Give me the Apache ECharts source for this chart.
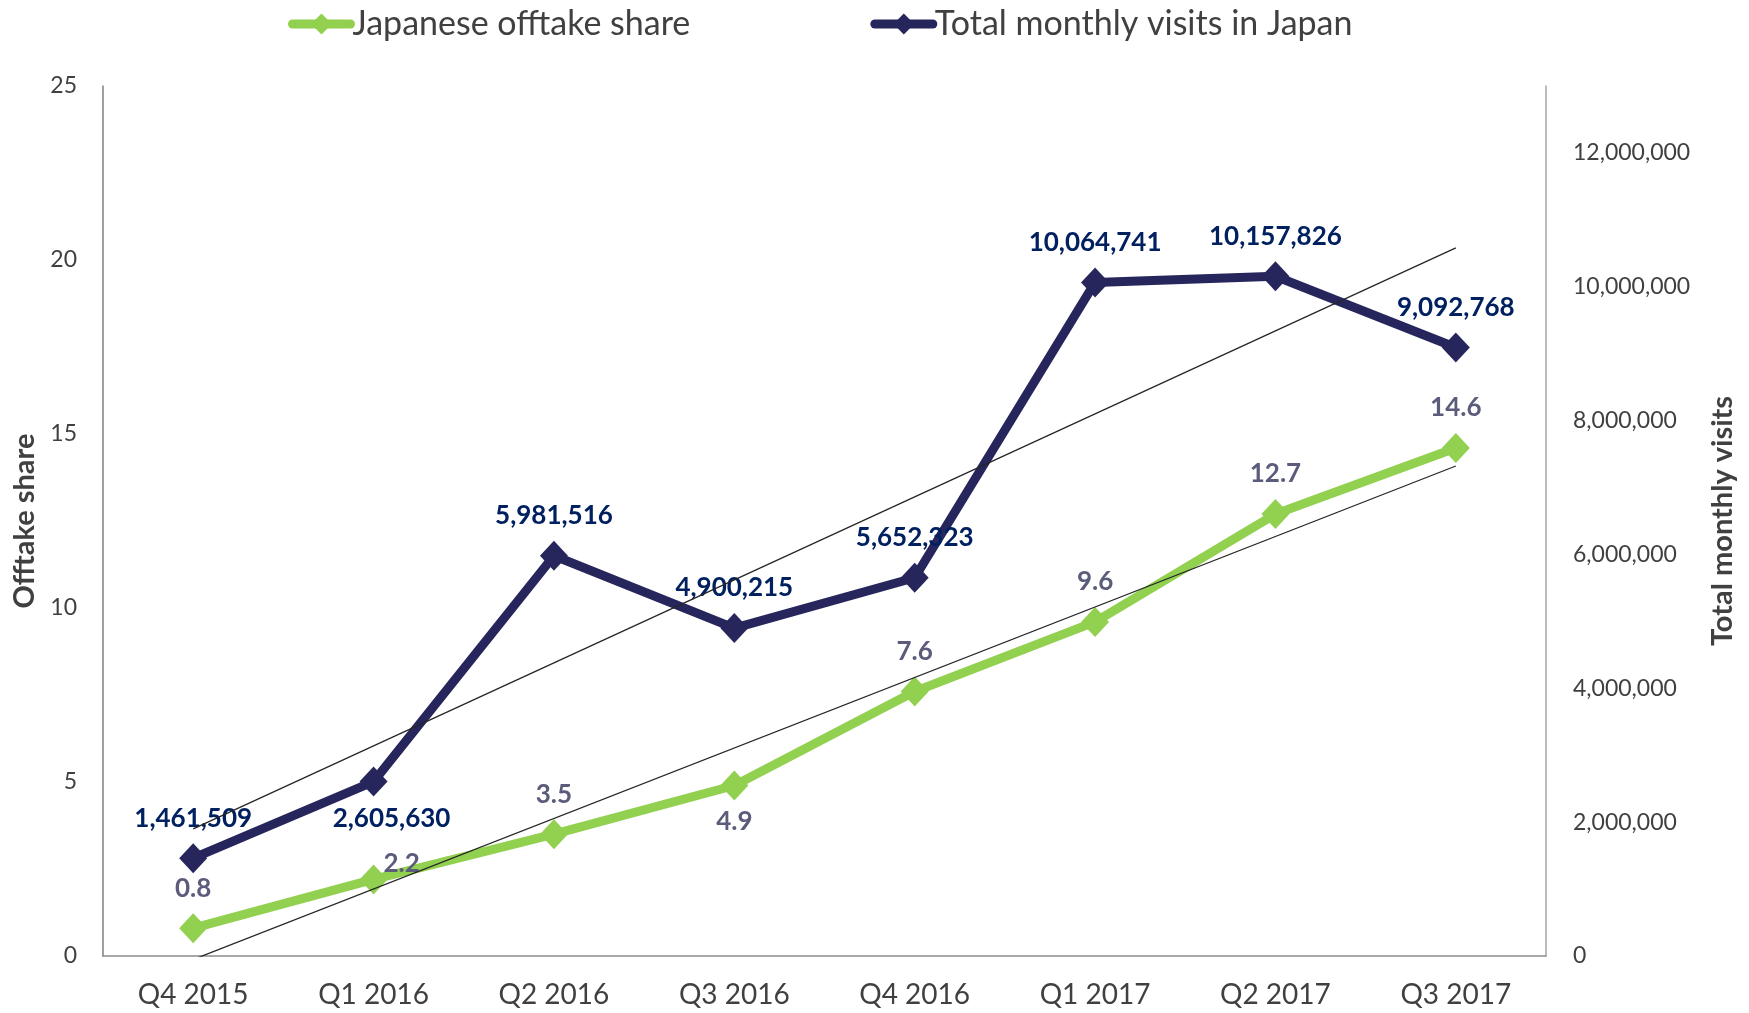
<!DOCTYPE html>
<html>
<head>
<meta charset="utf-8">
<script src="https://cdn.jsdelivr.net/npm/echarts@6/dist/echarts.min.js"></script>
<style>
  html, body { margin: 0; padding: 0; background: #fff; }
  #chart { width: 1749px; height: 1013px; }
</style>
</head>
<body>
<div id="chart"></div>
<script>
// quarters on the x axis
const quarters = ["Q4 2015", "Q1 2016", "Q2 2016", "Q3 2016", "Q4 2016", "Q1 2017", "Q2 2017", "Q3 2017"];
// Japanese offtake share (left axis)
const offtakeShare = [0.8, 2.2, 3.5, 4.9, 7.6, 9.6, 12.7, 14.6];
// Total monthly visits in Japan (right axis)
const monthlyVisits = [1461509, 2605630, 5981516, 4900215, 5652323, 10064741, 10157826, 9092768];
// thin trend lines, values read at Q4 2015 and Q3 2017
const offtakeTrend = [-0.1, 14.08];
const visitsTrend = [1900000, 10580000];

const FONT = "Lato, 'Noto Sans', sans-serif";
const GREEN = "#92d050";
const NAVY = "#26265c";
const VISIT_LABEL = "#002060";
const SHARE_LABEL = "#5b5b7b";

const fmtVisits = (v) => Number(v).toLocaleString("en-US");

const labelBase = {
  show: true,
  position: "top",
  distance: 12,
  fontFamily: FONT,
  fontWeight: "bold",
  fontSize: 26,
};

// a few labels sit below / beside their point in the original
const visitData = monthlyVisits.map((v, i) => {
  if (i === 1) {
    return { value: v, label: { position: "bottom", distance: 9, offset: [18, 0] } };
  }
  return v;
});
const shareData = offtakeShare.map((v, i) => {
  if (i === 1) return { value: v, label: { offset: [28, 24] } };
  if (i === 3) return { value: v, label: { position: "bottom", distance: 8 } };
  return v;
});

const chart = echarts.init(document.getElementById("chart"));
chart.setOption({
  backgroundColor: "#fff",
  animation: false,
  textStyle: { fontFamily: FONT },
  legend: {
    data: ["Japanese offtake share", "Total monthly visits in Japan"],
    left: 283,
    top: 2,
    itemWidth: 58,
    itemHeight: 26,
    itemGap: 180,
    lineStyle: { width: 9, cap: "round" },
    textStyle: { fontFamily: FONT, fontSize: 34, color: "#404040", padding: [0, 0, 0, -3] },
  },
  grid: { left: 103, right: 203, top: 86, bottom: 57, containLabel: false },
  xAxis: {
    type: "category",
    data: quarters,
    boundaryGap: true,
    axisLine: { lineStyle: { color: "#8c8c8c", width: 1.5 } },
    axisTick: { show: false },
    axisLabel: { fontFamily: FONT, fontSize: 28, color: "#404040", margin: 25 },
  },
  yAxis: [
    {
      type: "value",
      min: 0,
      max: 25,
      interval: 5,
      name: "Offtake share",
      nameLocation: "middle",
      nameGap: 64,
      nameTextStyle: { fontFamily: FONT, fontSize: 29, fontWeight: "bold", color: "#404040" },
      splitLine: { show: false },
      axisLine: { show: true, lineStyle: { color: "#7f7f7f", width: 1.5 } },
      axisTick: { show: false },
      axisLabel: { fontFamily: FONT, fontSize: 23, color: "#404040", margin: 26 },
    },
    {
      type: "value",
      min: 0,
      max: 13000000,
      interval: 2000000,
      position: "right",
      name: "Total monthly visits",
      nameLocation: "middle",
      nameGap: 162,
      nameTextStyle: { fontFamily: FONT, fontSize: 29, fontWeight: "bold", color: "#404040" },
      splitLine: { show: false },
      axisLine: { show: true, lineStyle: { color: "#a6a6a6", width: 1.5 } },
      axisTick: { show: false },
      axisLabel: {
        fontFamily: FONT,
        fontSize: 23,
        color: "#404040",
        margin: 27,
        align: "left",
        showMaxLabel: false,
        formatter: fmtVisits,
      },
    },
  ],
  series: [
    {
      name: "Japanese offtake share",
      type: "line",
      yAxisIndex: 0,
      data: shareData,
      symbol: "diamond",
      symbolSize: [28, 30],
      lineStyle: { color: GREEN, width: 9 },
      itemStyle: { color: GREEN },
      label: { ...labelBase, color: SHARE_LABEL, formatter: (p) => Number(p.value).toFixed(1) },
      z: 3,
    },
    {
      name: "Total monthly visits in Japan",
      type: "line",
      yAxisIndex: 1,
      data: visitData,
      symbol: "diamond",
      symbolSize: [28, 30],
      lineStyle: { color: NAVY, width: 9 },
      itemStyle: { color: NAVY },
      label: { ...labelBase, color: VISIT_LABEL, formatter: (p) => fmtVisits(p.value) },
      z: 3,
    },
    {
      name: "offtake trend",
      type: "line",
      yAxisIndex: 0,
      data: [[quarters[0], offtakeTrend[0]], [quarters[quarters.length - 1], offtakeTrend[1]]],
      symbol: "none",
      lineStyle: { color: "#262626", width: 1.3 },
      clip: true,
      silent: true,
      z: 4,
    },
    {
      name: "visits trend",
      type: "line",
      yAxisIndex: 1,
      data: [[quarters[0], visitsTrend[0]], [quarters[quarters.length - 1], visitsTrend[1]]],
      symbol: "none",
      lineStyle: { color: "#262626", width: 1.3 },
      clip: true,
      silent: true,
      z: 4,
    },
  ],
});
</script>
</body>
</html>
